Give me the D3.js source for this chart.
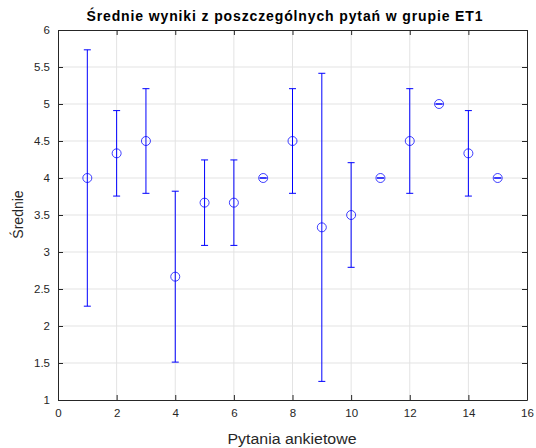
<!DOCTYPE html>
<html><head><meta charset="utf-8">
<script src="https://cdn.jsdelivr.net/npm/d3@7"></script>
<style>body{margin:0;background:#fff;} text{font-family:"Liberation Sans",Arial,sans-serif;}</style>
</head><body>
<svg id="c" width="536" height="448"></svg>
<script>
const questions = [1,2,3,4,5,6,7,8,9,10,11,12,13,14,15];
const means = [4, 4.3333, 4.5, 2.6667, 3.6667, 3.6667, 4, 4.5, 3.3333, 3.5, 4, 4.5, 5, 4.3333, 4];
const errors = [1.7321, 0.5774, 0.7071, 1.1547, 0.5774, 0.5774, 0, 0.7071, 2.0817, 0.7071, 0, 0.7071, 0, 0.5774, 0];
const xTicks = [0,2,4,6,8,10,12,14,16];
const yTicks = [1,1.5,2,2.5,3,3.5,4,4.5,5,5.5,6];

const svg = d3.select("#c");
const L=58, R=527, T=30, B=400;
const x = d3.scaleLinear().domain([0,16]).range([L,R]);
const y = d3.scaleLinear().domain([1,6]).range([B,T]);
const grid = svg.append("g");
xTicks.forEach(t=>{ if(t>0&&t<16) grid.append("line").attr("x1",x(t)).attr("x2",x(t)).attr("y1",T).attr("y2",B).attr("stroke","#e3e3e3").attr("stroke-width",1);});
yTicks.forEach(t=>{ if(t>1&&t<6) grid.append("line").attr("x1",L).attr("x2",R).attr("y1",y(t)).attr("y2",y(t)).attr("stroke","#e3e3e3").attr("stroke-width",1);});

const axCol="#262626";
const gx = svg.append("g").attr("transform",`translate(0,${B})`).call(d3.axisBottom(x).tickValues(xTicks).tickSizeInner(-5).tickSizeOuter(0).tickPadding(9));
const gxt = svg.append("g").attr("transform",`translate(0,${T})`).call(d3.axisTop(x).tickValues(xTicks).tickSizeInner(-5).tickSizeOuter(0).tickFormat(""));
const gy = svg.append("g").attr("transform",`translate(${L},0)`).call(d3.axisLeft(y).tickValues(yTicks).tickSizeInner(-5).tickSizeOuter(0).tickPadding(8).tickFormat(d3.format("")));
const gyr = svg.append("g").attr("transform",`translate(${R},0)`).call(d3.axisRight(y).tickValues(yTicks).tickSizeInner(-5).tickSizeOuter(0).tickFormat(""));
[gx,gxt,gy,gyr].forEach(g=>{
  g.selectAll("path").attr("stroke",axCol).attr("stroke-width",1);
  g.selectAll("line").attr("stroke",axCol);
  g.selectAll("text").attr("fill",axCol).style("font-size","11.5px").style("font-family","Liberation Sans, Arial, sans-serif");
});

const col="#0000ff";
const eb = svg.append("g");
questions.forEach((q,i)=>{
  const cx=x(q), m=means[i], e=errors[i];
  const g = eb.append("g").attr("stroke",col).attr("stroke-width",1).attr("fill","none");
  g.append("line").attr("x1",cx).attr("x2",cx).attr("y1",y(m-e)).attr("y2",y(m+e));
  g.append("line").attr("x1",cx-3.5).attr("x2",cx+3.5).attr("y1",y(m-e)).attr("y2",y(m-e));
  g.append("line").attr("x1",cx-3.5).attr("x2",cx+3.5).attr("y1",y(m+e)).attr("y2",y(m+e));
  g.append("circle").attr("cx",cx).attr("cy",y(m)).attr("r",4.5).attr("stroke-opacity",0.75);
});

svg.append("text").attr("x",284.5).attr("y",21).attr("text-anchor","middle").attr("font-weight","bold").attr("fill","#000").style("font-size","14px")
  .attr("textLength",396).attr("lengthAdjust","spacing").text("Średnie wyniki z poszczególnych pytań w grupie ET1");
svg.append("text").attr("x",292).attr("y",444).attr("text-anchor","middle").attr("fill",axCol).style("font-size","14px")
  .attr("textLength",129).attr("lengthAdjust","spacingAndGlyphs").text("Pytania ankietowe");
svg.append("text").attr("transform",`translate(23,${214.5}) rotate(-90)`).attr("text-anchor","middle").attr("fill",axCol).style("font-size","14px").text("Średnie");
</script>
</body></html>
